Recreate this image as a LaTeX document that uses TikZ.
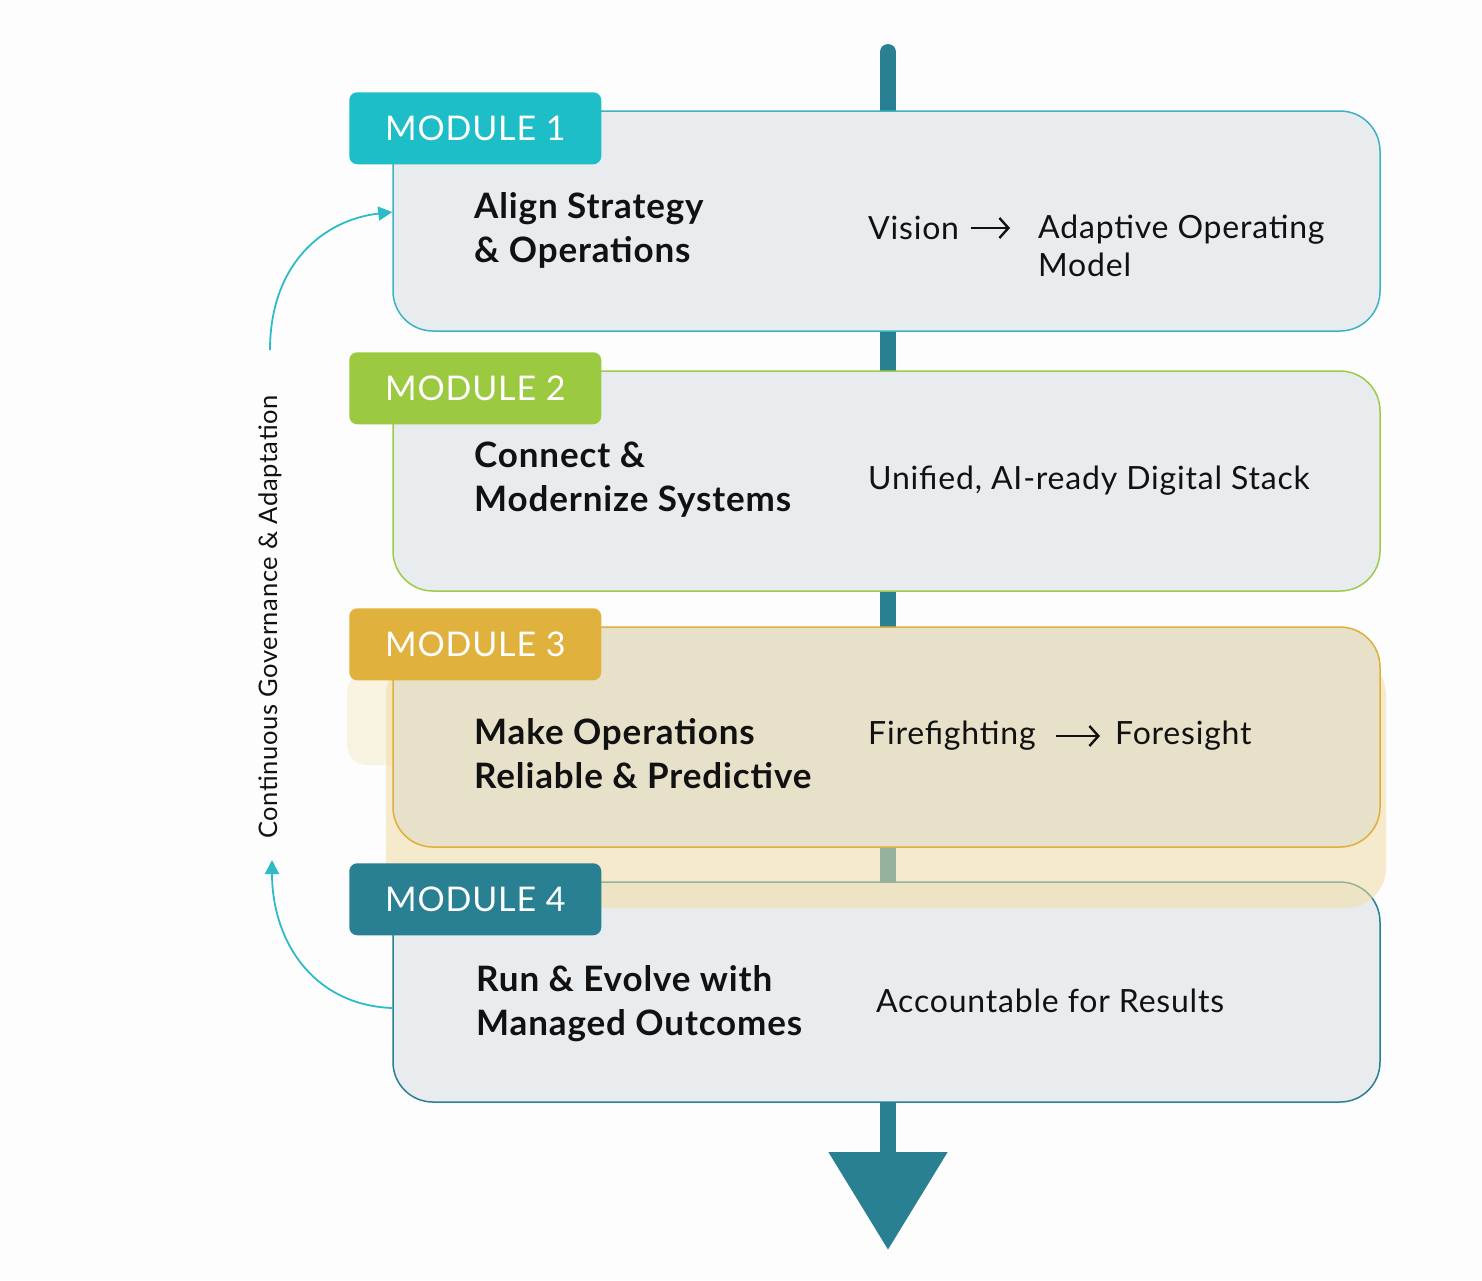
\documentclass[tikz,border=0pt]{standalone}
\usepackage{fontspec}
\setmainfont{Lato}[LetterSpace=2.5]
\usepackage{tikz}
\usetikzlibrary{arrows.meta}
\definecolor{sfondo}{HTML}{FDFDFD}
\definecolor{petrolio}{HTML}{2A8093}
\definecolor{grigino}{HTML}{E8ECEF}
\definecolor{sabbia}{HTML}{E8E1CA}
\definecolor{bagliore}{HTML}{F2DCA4}
\definecolor{ciano}{HTML}{1EBEC8}
\definecolor{cianobordo}{HTML}{3AB4C3}
\definecolor{verde}{HTML}{9BC93F}
\definecolor{verdebordo}{HTML}{9CCB48}
\definecolor{oro}{HTML}{E0B13D}
\definecolor{orobordo}{HTML}{E0AE3A}
\definecolor{frecciaciclo}{HTML}{2DBBC8}
\definecolor{testo}{HTML}{111111}

\begin{document}
\begin{tikzpicture}[x=1pt, y=-1pt,
        box/.style={line width=1.5pt, rounded corners=40pt, minimum width=987pt, minimum height=220pt},
        tab/.style={rounded corners=8pt, minimum width=252pt, minimum height=72pt,
            text=white, font=\fontsize{34}{40}\selectfont},
        title/.style={anchor=west, align=left, inner sep=0pt, text=testo,
            font=\bfseries\fontsize{35}{44}\selectfont},
        note/.style={anchor=west, align=left, inner sep=0pt, text=testo,
            font=\fontsize{32}{38}\selectfont},
        goarrow/.style={testo, line width=2.4pt, -{Straight Barb[length=9pt,width=20pt]}},
        cyclearrow/.style={frecciaciclo, line width=1.8pt, -{Triangle[length=14pt,width=14pt]}}]
        \fill[sfondo] (0,0) rectangle (1482,1280);
        \useasboundingbox (0,0) rectangle (1482,1280);
        % Asse verticale con punta
        \coordinate (top) at (888,52);
        \coordinate (tip) at (888,1250);
        \draw[petrolio, line width=16pt, line cap=round, -{Triangle[length=98pt,width=115pt]}] (top) -- (tip);
        % Riquadri dei moduli
        \foreach \i/\yy/\bordo in {1/221/cianobordo, 2/481/verdebordo, 4/992/petrolio}
            {
                \node[box, draw=\bordo, fill=grigino] (box\i) at (886.5,\yy) {};
            }
        % Alone del modulo 3
        \fill[bagliore, opacity=0.3, rounded corners=20pt] (347,672) rectangle (420,765);
        \fill[bagliore, opacity=0.55, rounded corners=40pt] (386,655) rectangle (1386,908);
        \node[box, draw=orobordo, fill=sabbia] (box3) at (886.5,737) {};
        % Etichette
        \foreach \i/\col in {1/ciano, 2/verde, 3/oro, 4/petrolio}
            {
                \node[tab, fill=\col] (tab\i) at ([xshift=83pt,yshift=-18pt]box\i.north west) {MODULE \i};
            }
        % Testi
        \node[title] (align) at (474,230) {Align Strategy\\\& Operations};
        \node[note] (vision) at (868,228) {Vision};
        \node[note] (adaptive) at (1038,246) {Adaptive Operating\\Model};
        \draw[goarrow, shorten <=12pt, shorten >=28pt] (vision.east) -- (vision.east -| adaptive.west);
        \node[title] (connect) at (474,480) {Connect \&\\Modernize Systems};
        \node[note] (unified) at (868,481) {Unified, AI-ready Digital Stack};
        \node[title] (make) at (474,754) {Make Operations\\Reliable \& Predictive};
        \node[note] (fire) at (868,736) {Firefighting};
        \node[note] (foresight) at (1115,736) {Foresight};
        \draw[goarrow, shorten <=20pt, shorten >=15pt] (fire.east) -- (fire.east -| foresight.west);
        \node[title] (run) at (476,1004) {Run \& Evolve with\\Managed Outcomes};
        \node[note] (results) at (876,1001) {Accountable for Results};
        % Ciclo di governance
        \node[rotate=90, text=testo, font=\fontsize{25.5}{30}\selectfont] (gov) at (270,617)
            {Continuous Governance \& Adaptation};
        \coordinate (looptop) at (270,350);
        \coordinate (loopbot) at (272,860);
        \coordinate (in1) at ([yshift=9pt]box1.west);
        \coordinate (out4) at ([yshift=-16pt]box4.west);
        \draw[cyclearrow] (looptop) .. controls +(0,-85) and +(-70,8) .. (in1);
        \draw[cyclearrow] (out4) .. controls +(-80,-3) and +(0,80) .. (loopbot);
    \end{tikzpicture}
\end{document}
